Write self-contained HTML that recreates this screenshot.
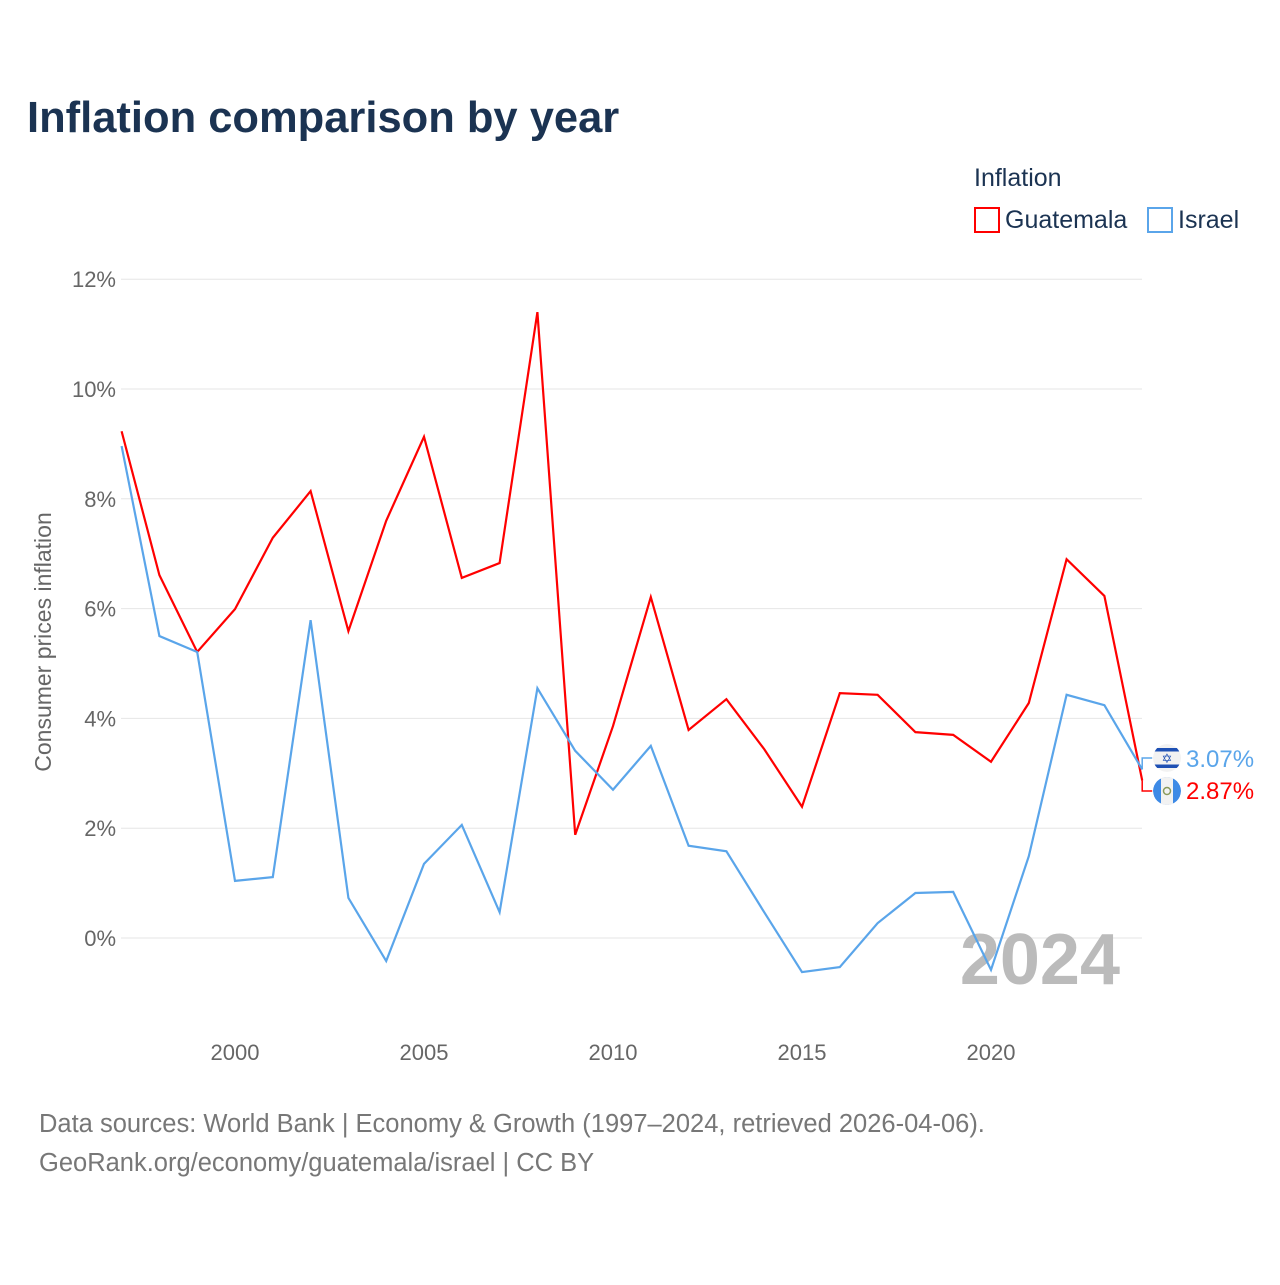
<!DOCTYPE html>
<html><head><meta charset="utf-8"><style>
body{margin:0;background:#fff;font-family:"Liberation Sans",sans-serif;}
svg text{font-family:"Liberation Sans",sans-serif;}
</style></head><body>
<svg width="1280" height="1280" viewBox="0 0 1280 1280" xmlns="http://www.w3.org/2000/svg">
<defs><clipPath id="ci"><circle cx="1167" cy="758" r="14"/></clipPath><clipPath id="cg"><circle cx="1167" cy="791" r="14"/></clipPath></defs>
<rect width="1280" height="1280" fill="#fff"/>
<text x="27" y="132" font-size="43.5" font-weight="bold" fill="#1b3352">Inflation comparison by year</text>
<text x="974" y="186" font-size="25" fill="#1b3352">Inflation</text>
<g><rect x="975" y="208" width="24" height="24" fill="none" stroke="#f00" stroke-width="2"/><text x="1005" y="228" font-size="25" fill="#1b3352">Guatemala</text></g>
<g><rect x="1148" y="208" width="24" height="24" fill="none" stroke="#5aa5ea" stroke-width="2"/><text x="1178" y="228" font-size="25" fill="#1b3352">Israel</text></g>
<text transform="translate(51,642) rotate(-90)" text-anchor="middle" font-size="23" fill="#666">Consumer prices inflation</text>
<g id="grid"></g><g id="yt"></g><g id="xt"></g>
<text x="1120" y="984" text-anchor="end" font-size="72" font-weight="bold" fill="#bbb">2024</text>
<g id="series"></g>
<text x="39" y="1132" font-size="25.5" fill="#777">Data sources: World Bank | Economy &amp; Growth (1997–2024, retrieved 2026-04-06).</text>
<text x="39" y="1171" font-size="25.5" fill="#777">GeoRank.org/economy/guatemala/israel | CC BY</text>
</svg>
<script>
const years=[1997,1998,1999,2000,2001,2002,2003,2004,2005,2006,2007,2008,2009,2010,2011,2012,2013,2014,2015,2016,2017,2018,2019,2020,2021,2022,2023,2024];
const guatemala=[9.23,6.61,5.21,5.99,7.29,8.14,5.59,7.60,9.13,6.56,6.83,11.40,1.88,3.86,6.21,3.79,4.35,3.44,2.39,4.46,4.43,3.75,3.70,3.21,4.28,6.90,6.23,2.87];
const israel=[8.96,5.50,5.21,1.04,1.11,5.79,0.73,-0.42,1.35,2.06,0.47,4.55,3.41,2.70,3.50,1.68,1.58,0.47,-0.62,-0.53,0.27,0.82,0.84,-0.58,1.49,4.43,4.24,3.07];
const yTicks=[0,2,4,6,8,10,12];
const xTicks=[2000,2005,2010,2015,2020];
const NS="http://www.w3.org/2000/svg";
const x=v=>121.6+(v-1997)*37.8;
const y=v=>938-v*54.9;
function mk(t,a,p){const e=document.createElementNS(NS,t);for(const k in a)e.setAttribute(k,a[k]);p.appendChild(e);return e;}
const grid=document.getElementById('grid'),yt=document.getElementById('yt'),xt=document.getElementById('xt'),S=document.getElementById('series');
yTicks.forEach(v=>{
 const l=mk('line',{x1:121,x2:1142,y1:y(v),y2:y(v),stroke:'#e6e6e6','stroke-width':1},grid);
 
 
 const t=mk('text',{x:116,y:y(v)+8,'text-anchor':'end','font-size':22,fill:'#666'},yt);t.textContent=v+'%';
 
 
});
xTicks.forEach(v=>{
 const t=mk('text',{x:x(v),y:1060,'text-anchor':'middle','font-size':22,fill:'#666'},xt);t.textContent=v;
 
 
});
function line(d,c,name){
 const p=mk('polyline',{points:d.map((v,i)=>x(years[i])+','+y(v)).join(' '),fill:'none',stroke:c,'stroke-width':2.2,'stroke-linejoin':'miter'},S);
 
 
}
line(guatemala,'#f00','guatemala-line');
line(israel,'#5aa5ea','israel-line');
const gl=guatemala[guatemala.length-1],il=israel[israel.length-1],xe=x(2024);
const gy=791,iy=758;
const c1=mk('polyline',{points:`${xe},${y(gl)} ${xe},${gy} ${xe+10},${gy}`,fill:'none',stroke:'#f00','stroke-width':1.5},S);


const c2=mk('polyline',{points:`${xe},${y(il)} ${xe},${iy} ${xe+10},${iy}`,fill:'none',stroke:'#5aa5ea','stroke-width':1.5},S);


const fi=mk('g',{'clip-path':'url(#ci)'},S);


mk('circle',{cx:1167,cy:iy,r:14,fill:'#f2f2f2'},fi);
mk('rect',{x:1150,y:iy-10,width:34,height:3.5,fill:'#1e50b4'},fi);
mk('rect',{x:1150,y:iy+6.5,width:34,height:3.5,fill:'#1e50b4'},fi);
mk('text',{x:1167,y:iy+5,'text-anchor':'middle','font-size':13,fill:'#1e50b4'},fi).textContent='✡';
const fg=mk('g',{'clip-path':'url(#cg)'},S);


mk('circle',{cx:1167,cy:gy,r:14,fill:'#3d8ae6'},fg);
mk('rect',{x:1161,y:gy-14,width:12,height:28,fill:'#f2f2f2'},fg);
mk('circle',{cx:1167,cy:gy,r:3.5,fill:'none',stroke:'#8a9a5b','stroke-width':1.5},fg);
const ti=mk('text',{x:1186,y:iy+9,'font-size':24,fill:'#5aa5ea'},S);ti.textContent=il.toFixed(2)+'%';


const tg=mk('text',{x:1186,y:gy+8,'font-size':24,fill:'#f00'},S);tg.textContent=gl.toFixed(2)+'%';


</script>
</body></html>
